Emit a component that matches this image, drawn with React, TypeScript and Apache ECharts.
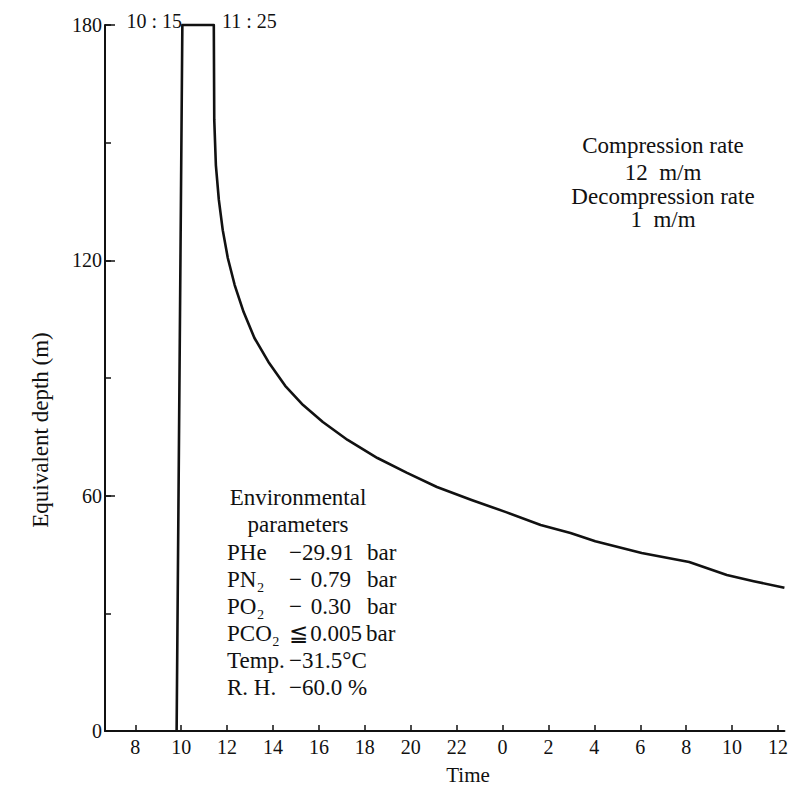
import React, { useEffect, useRef } from "react";
import * as echarts from "echarts";

// Time in hours (24 = midnight, 36 = 12:00 next day), depth in metres
const times = [
  9.8, 10.05, 11.42, 11.44, 11.51, 11.64, 11.81, 12.03, 12.33, 12.72, 13.19,
  13.8, 14.53, 15.31, 16.17, 17.25, 18.55, 19.84, 21.14, 22.65, 24.15, 25.66,
  26.96, 28.04, 30.06, 32.13, 33.77, 34.94, 36.28,
];
const depths = [
  0, 180, 180, 155.8, 144.3, 135.4, 127.7, 120.6, 113.7, 106.8, 100.2, 94.1,
  88.0, 83.1, 78.8, 74.2, 69.6, 65.8, 62.2, 58.9, 55.8, 52.5, 50.5, 48.4, 45.4,
  43.1, 39.8, 38.2, 36.5,
];
const xTickValues = [8, 10, 12, 14, 16, 18, 20, 22, 24, 26, 28, 30, 32, 34, 36];
const yLabelValues = [0, 60, 120, 180];

const rateLines = ["Compression rate", "12  m/m", "Decompression rate", "1  m/m"];
const envTitle = ["Environmental", "parameters"];
const envNames = ["PHe", "PN₂", "PO₂", "PCO₂", "Temp.", "R. H."];
const envOps = ["−29.91", "−", "−", "≦", "−31.5°C", "−60.0 %"];
const envValues = ["", "0.79", "0.30", "0.005", "", ""];
const envUnits = ["bar", "bar", "bar", "bar", "", ""];

const FONT = "Liberation Serif";

export default function App() {
  const ref = useRef<HTMLDivElement>(null);
  useEffect(() => {
    if (!ref.current) return;
    const chart = echarts.init(ref.current, null, { renderer: "svg" });
    const txt = (
      text: string,
      x: number,
      y: number,
      align: string,
      size = 23,
      extra: any = {}
    ) => ({
      type: "text",
      x,
      y,
      silent: true,
      ...extra,
      style: {
        text,
        fill: "#111",
        fontSize: size,
        fontFamily: FONT,
        align,
        verticalAlign: "middle",
      },
    });
    const graphics: any[] = [];
    graphics.push(txt("10 : 15", 182, 21, "right", 20));
    graphics.push(txt("11 : 25", 222, 21, "left", 20));
    graphics.push(txt("Time", 468, 775, "center", 21));
    graphics.push(
      txt("Equivalent depth (m)", 40, 430, "center", 23, { rotation: Math.PI / 2 })
    );
    const rateY = [145, 172, 196, 219];
    rateLines.forEach((l, i) => graphics.push(txt(l, 663, rateY[i], "center", 23)));
    envTitle.forEach((l, i) => graphics.push(txt(l, 298, 497 + i * 27, "center", 23)));
    envNames.forEach((n, i) => {
      const y = 552 + i * 27;
      graphics.push(txt(n, 227, y, "left", 23));
      graphics.push(txt(envOps[i], 289, y, "left", 23));
      if (envValues[i]) {
        graphics.push(txt(envValues[i], i === 3 ? 362 : 351, y, "right", 23));
      }
      if (envUnits[i]) graphics.push(txt(envUnits[i], i === 3 ? 366 : 367, y, "left", 23));
    });

    chart.setOption({
      animation: false,
      backgroundColor: "#fff",
      grid: { left: 105, right: 0, top: 25, bottom: 56, containLabel: false },
      xAxis: {
        type: "value",
        min: 6.68,
        max: 36.28,
        axisLine: { show: true, lineStyle: { color: "#111", width: 2 } },
        axisTick: {
          show: true,
          inside: true,
          length: 6,
          customValues: xTickValues,
          lineStyle: { color: "#111", width: 1.5 },
        },
        axisLabel: {
          customValues: xTickValues,
          margin: 6,
          color: "#111",
          fontSize: 20,
          fontFamily: FONT,
          formatter: (v: number) => String(Math.round(v) % 24),
        },
        splitLine: { show: false },
      },
      yAxis: [
        {
          type: "value",
          min: 0,
          max: 180,
          interval: 30,
          axisLine: { show: true, lineStyle: { color: "#111", width: 2 } },
          axisTick: {
            show: true,
            inside: true,
            length: 6,
            lineStyle: { color: "#111", width: 1.5 },
          },
          axisLabel: {
            margin: 3,
            color: "#111",
            fontSize: 20,
            fontFamily: FONT,
            formatter: (v: number) => (yLabelValues.includes(v) ? String(v) : ""),
          },
          splitLine: { show: false },
        },
        {
          type: "value",
          position: "left",
          min: 0,
          max: 180,
          interval: 60,
          axisLine: { show: false },
          axisTick: {
            show: true,
            inside: true,
            length: 10,
            lineStyle: { color: "#111", width: 1.5 },
          },
          axisLabel: { show: false },
          splitLine: { show: false },
        },
      ],
      series: [
        {
          type: "line",
          data: times.map((t, i) => [t, depths[i]]),
          showSymbol: false,
          symbol: "none",
          smooth: false,
          lineStyle: { color: "#111", width: 2.6, join: "round" },
          clip: false,
        },
      ],
      graphic: graphics,
    });
    return () => chart.dispose();
  }, []);
  return (
    <div
      ref={ref}
      style={{ position: "fixed", left: 0, top: 0, width: 791, height: 787, background: "#fff" }}
    />
  );
}
